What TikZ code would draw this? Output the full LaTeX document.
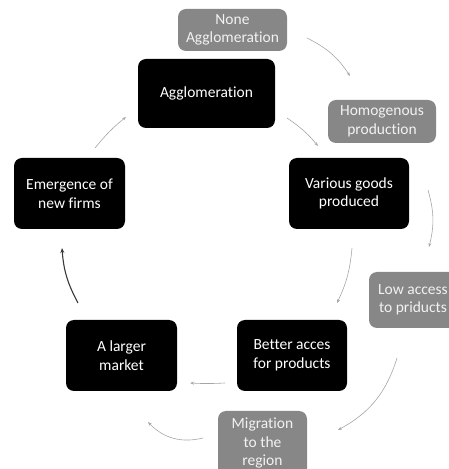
\documentclass[tikz,border=0pt]{standalone}
\usepackage{fontspec}
\setmainfont{Carlito}[RawFeature={-liga;-calt;-clig;-dlig}]
\usetikzlibrary{arrows.meta}
\definecolor{boxgrey}{HTML}{878787}
\definecolor{lightline}{HTML}{A6A6A6}
\definecolor{darkline}{HTML}{3A3A3A}
\tikzset{
  basebox/.style={rounded corners=8pt, align=center, inner sep=0pt,
    font=\fontsize{15.5}{18.5}\selectfont},
  mainbox/.style={basebox, fill=black, text=white},
  sidebox/.style={basebox, fill=boxgrey, text=white!95!black},
  thinarrow/.style={draw=lightline, line width=0.6pt,
    -{Stealth[length=4pt,width=3pt]}},
  thickarrow/.style={draw=darkline, line width=1.1pt,
    -{Stealth[length=5pt,width=4pt]}}
}
\begin{document}
\begin{tikzpicture}[x=1pt,y=1pt]
\useasboundingbox (0,0) rectangle (448,469);

% main cycle
\node[mainbox, minimum width=137pt, minimum height=69pt] (agg) at (206.5,375.5) {Agglomeration};
\node[mainbox, minimum width=120pt, minimum height=71pt] (various) at (349,275.5) {Various goods\\produced};
\node[mainbox, minimum width=110pt, minimum height=71pt] (better) at (292,113.5) {Better acces\\for products};
\node[mainbox, minimum width=111pt, minimum height=71pt] (larger) at (121.5,113.5) {A larger\\market};
\node[mainbox, minimum width=111pt, minimum height=71pt] (emerg) at (69.5,275.5) {Emergence of\\new firms};

% outer cycle
\node[sidebox, minimum width=109pt, minimum height=42pt] (none) at (232.5,439) {None\\Agglomeration};
\node[sidebox, minimum width=108pt, minimum height=43pt] (homog) at (382,347.5) {Homogenous\\production};
\node[sidebox, minimum width=88pt, minimum height=56pt] (low) at (413,169) {Low access\\to priducts};
\node[sidebox, minimum width=89pt, minimum height=65pt] (migr) at (262.5,25.5) {Migration\\to the\\region};

% connector end points
\coordinate (aggOut) at (287,351);   \coordinate (variousIn) at (318,323);
\coordinate (noneOut) at (307,431);  \coordinate (homogIn) at (350,393);
\coordinate (variousOutR) at (428,279); \coordinate (lowIn) at (429,222);
\coordinate (variousOut) at (352,221);  \coordinate (betterIn) at (337,166);
\coordinate (lowOut) at (397,111);   \coordinate (migrIn) at (338,39);
\coordinate (betterOut) at (225,86); \coordinate (largerIn) at (190,86);
\coordinate (migrOut) at (203,31);   \coordinate (largerInB) at (148,47);
\coordinate (largerOut) at (78,166); \coordinate (emergIn) at (62,221);
\coordinate (emergOut) at (95,321);  \coordinate (aggIn) at (126,352);

\draw[thinarrow] (aggOut) to[bend left=8] (variousIn);
\draw[thinarrow] (noneOut) to[bend left=15] (homogIn);
\draw[thinarrow] (variousOutR) to[bend left=15] (lowIn);
\draw[thinarrow] (variousOut) to[bend left=10] (betterIn);
\draw[thinarrow] (lowOut) to[bend left=22] (migrIn);
\draw[thinarrow] (betterOut) to[bend left=3] (largerIn);
\draw[thinarrow] (migrOut) to[bend left=30] (largerInB);
\draw[thickarrow] (largerOut) to[bend left=12] (emergIn);
\draw[thinarrow] (emergOut) to[bend left=6] (aggIn);
\end{tikzpicture}
\end{document}
